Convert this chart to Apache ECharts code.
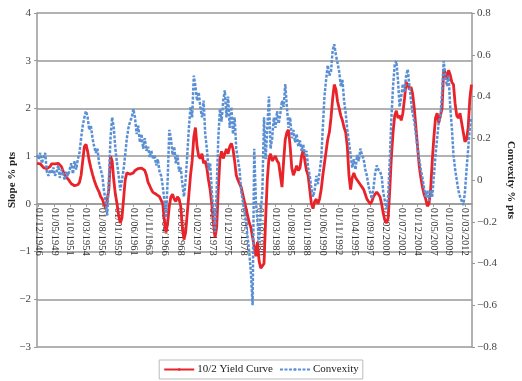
<!DOCTYPE html>
<html>
<head>
<meta charset="utf-8">
<script src="https://cdn.jsdelivr.net/npm/echarts@6/dist/echarts.min.js"></script>
<style>
html,body{margin:0;padding:0;background:#fff;}
#c{width:522px;height:381px;}
</style>
</head>
<body>
<div id="c"></div>
<script>
// Monthly category axis, first month and length
var startYear = 1946, startMonth = 9, monthCount = 800;
// Tick labels shown on the x axis
var tickLabels = ['01/12/1946','01/05/1949','01/10/1951','01/03/1954','01/08/1956','01/01/1959','01/06/1961','01/11/1963','01/04/1966','01/09/1968','01/02/1971','01/07/1973','01/12/1975','01/05/1978','01/10/1980','01/03/1983','01/08/1985','01/01/1988','01/06/1990','01/11/1992','01/04/1995','01/09/1997','01/02/2000','01/07/2002','01/12/2004','01/05/2007','01/10/2009','01/03/2012'];
// Series sampled every 3 months (quarterly) from the first month
var slope = [
0.85,0.88,0.84,0.8,0.76,0.72,0.74,0.72,0.78,0.84,
0.86,0.84,0.82,0.85,0.83,0.78,0.68,0.6,0.56,0.52,
0.48,0.42,0.45,0.38,0.35,0.4,0.45,0.6,0.9,1.2,
1.25,1.1,0.9,0.75,0.62,0.5,0.4,0.32,0.25,0.15,
0.1,0.0,-0.1,-0.12,0.3,1.0,0.9,0.5,0.2,0.0,
-0.25,-0.4,-0.3,0.1,0.5,0.65,0.68,0.62,0.6,0.65,
0.7,0.68,0.74,0.77,0.75,0.72,0.7,0.6,0.45,0.38,
0.3,0.24,0.22,0.2,0.18,0.15,0.12,0.0,-0.35,-0.6,
-0.4,-0.05,0.15,0.2,0.1,0.05,0.15,0.1,-0.05,-0.5,
-0.75,-0.6,-0.2,0.2,0.6,0.9,1.4,1.6,1.2,1.0,
0.95,1.05,0.85,0.9,0.75,0.5,0.3,0.0,-0.4,-0.7,
-0.5,0.3,0.95,1.1,0.95,1.05,1.15,1.05,1.2,1.27,
1.15,0.9,0.6,0.5,0.42,0.35,0.2,0.05,-0.1,-0.25,
-0.4,-0.5,-0.7,-0.9,-1.1,-0.8,-1.2,-1.35,-1.3,-1.25,
-0.3,0.5,0.95,1.05,0.9,0.95,1.0,0.9,0.85,0.6,
0.35,0.9,1.35,1.5,1.55,1.2,0.75,0.6,0.7,0.8,
0.7,0.75,1.0,1.13,0.9,0.7,0.6,0.3,0.0,-0.1,
0.05,0.1,0.0,0.1,0.3,0.6,0.85,1.1,1.35,1.5,
1.8,2.2,2.5,2.4,2.15,2.0,1.85,1.75,1.6,1.5,
1.2,0.6,0.3,0.55,0.65,0.55,0.5,0.5,0.4,0.35,
0.3,0.2,0.1,0.05,0.0,0.05,0.15,0.2,0.25,0.2,
0.15,0.0,-0.2,-0.35,-0.4,-0.3,0.3,1.0,1.5,1.85,
1.95,1.8,1.85,1.75,1.9,2.2,2.55,2.5,2.4,2.45,
2.3,2.0,1.6,1.2,0.8,0.55,0.35,0.2,0.1,-0.05,
0.0,0.3,0.9,1.4,1.8,1.9,1.7,1.85,2.0,2.8,
2.75,2.6,2.8,2.7,2.55,2.5,2.1,1.85,1.8,1.9,
1.7,1.5,1.3,1.35,1.6,2.2,2.5
];
var convexity = [
0.12,0.1,0.13,0.08,0.11,0.13,0.04,0.02,0.05,0.03,
0.06,0.02,0.04,0.07,0.01,0.05,0.03,0.0,0.04,0.02,
0.05,0.08,0.03,0.09,0.05,0.1,0.13,0.2,0.26,0.3,
0.33,0.3,0.24,0.26,0.2,0.16,0.13,0.15,0.08,0.05,
0.02,-0.05,-0.1,-0.17,0.0,0.2,0.3,0.25,0.15,0.08,
0.02,-0.05,0.0,0.05,0.12,0.2,0.25,0.28,0.3,0.34,
0.3,0.22,0.26,0.18,0.22,0.15,0.2,0.14,0.16,0.11,
0.14,0.1,0.12,0.07,0.1,0.04,0.02,-0.03,-0.1,-0.18,
0.0,0.24,0.2,0.12,0.16,0.08,0.12,0.04,0.06,-0.02,
-0.08,0.0,0.12,0.25,0.35,0.3,0.5,0.45,0.38,0.42,
0.35,0.3,0.38,0.22,0.15,0.05,0.08,-0.05,-0.15,-0.25,
-0.05,0.2,0.34,0.28,0.38,0.43,0.3,0.4,0.25,0.35,
0.22,0.3,0.15,0.1,0.05,-0.05,-0.1,-0.15,-0.2,-0.28,
-0.35,-0.45,-0.6,0.15,-0.1,-0.2,-0.3,-0.15,-0.05,0.3,
0.1,0.25,0.4,0.15,0.2,0.3,0.25,0.33,0.27,0.32,
0.38,0.35,0.46,0.35,0.25,0.3,0.2,0.24,0.18,0.22,
0.16,0.19,0.14,0.17,0.12,0.14,0.06,0.02,-0.04,-0.08,
-0.05,0.02,-0.02,0.04,0.1,0.25,0.4,0.48,0.55,0.5,
0.52,0.62,0.65,0.6,0.56,0.52,0.45,0.48,0.38,0.32,
0.24,0.18,0.12,0.06,0.1,0.05,0.12,0.09,0.15,0.12,
0.1,0.05,0.02,-0.03,-0.06,-0.09,-0.04,0.03,0.07,0.05,
0.04,0.02,-0.06,-0.1,-0.14,-0.08,0.1,0.3,0.45,0.55,
0.57,0.48,0.35,0.4,0.46,0.42,0.5,0.53,0.45,0.38,
0.32,0.28,0.22,0.15,0.1,0.05,0.01,-0.04,-0.08,-0.05,
-0.1,-0.05,-0.08,0.02,0.12,0.2,0.28,0.3,0.42,0.57,
0.5,0.45,0.5,0.35,0.25,0.12,0.05,0.0,-0.05,-0.08,
-0.1,-0.12,-0.06,0.05,0.15,0.25,0.3
];
var sampleStep = 3;

var categories = [];
for (var i = 0; i < monthCount; i++) {
  var mm = (startMonth - 1 + i) % 12 + 1;
  var yy = startYear + Math.floor((startMonth - 1 + i) / 12);
  categories.push('01/' + (mm < 10 ? '0' + mm : mm) + '/' + yy);
}
function toPairs(arr){ return arr.map(function(v, k){ return [k * sampleStep, v]; }); }
var labelSet = {};
tickLabels.forEach(function(t){ labelSet[t] = true; });
function showTick(idx, val){ return !!labelSet[val]; }
function minus(v){ return String(v).replace('-', '\u2212'); }

var redIcon = 'path://M0,0 L40,0 L40,3 L0,3 Z';
var blueIcon = 'path://M0,0h4v3h-4z M6,0h4v3h-4z M12,0h4v3h-4z M18,0h4v3h-4z M24,0h4v3h-4z M30,0h4v3h-4z M36,0h4v3h-4z';

var gridTop = 13, gridBottom = 34, chartH = 381;
var yMin = -3, yMax = 4;
// move the category axis up to the zero line of the left axis
var plotH = chartH - gridTop - gridBottom;
var zeroOffset = -plotH * (0 - yMin) / (yMax - yMin);

var chart = echarts.init(document.getElementById('c'));
var serif = '"Liberation Serif", "DejaVu Serif", serif';
chart.setOption({
  animation: false,
  backgroundColor: '#fff',
  grid: { left: 37, right: 50, top: gridTop, bottom: gridBottom, containLabel: false, outerBoundsMode: 'none' },
  legend: {
    bottom: 2, left: 'center',
    data: ['10/2 Yield Curve', 'Convexity'],
    itemWidth: 30, itemHeight: 3, itemGap: 6,
    borderColor: '#bbb', borderWidth: 1, borderRadius: 0,
    padding: [4, 4, 4, 4],
    textStyle: { fontFamily: serif, fontSize: 11, color: '#222', padding: [0, 0, 0, -2] }
  },
  xAxis: {
    type: 'category',
    data: categories,
    boundaryGap: false,
    position: 'bottom',
    offset: zeroOffset,
    axisLine: { show: true, onZero: false, lineStyle: { color: '#999', width: 1.5 } },
    axisTick: { show: true, interval: showTick, length: 3, lineStyle: { color: '#999' } },
    axisLabel: { interval: showTick, rotate: -90, fontFamily: serif, fontSize: 10.5, color: '#333', margin: 4 },
    splitLine: { show: false }
  },
  yAxis: [{
    type: 'value', min: yMin, max: yMax, interval: 1,
    name: 'Slope % pts', nameLocation: 'middle', nameGap: 19, nameRotate: 90, nameMoveOverlap: false,
    nameTextStyle: { fontFamily: serif, fontSize: 11, fontWeight: 'bold', color: '#222' },
    axisLine: { show: true, onZero: false, lineStyle: { color: '#999', width: 1.5 } },
    axisTick: { show: true, length: 3, lineStyle: { color: '#999' } },
    axisLabel: { fontFamily: serif, fontSize: 11, color: '#444', margin: 6, formatter: minus },
    splitLine: { show: true, lineStyle: { color: '#999', width: 1.5 } }
  }, {
    type: 'value', min: -0.8, max: 0.8, interval: 0.2, position: 'right',
    name: 'Convexity % pts', nameLocation: 'middle', nameGap: 33, nameRotate: -90, nameMoveOverlap: false,
    nameTextStyle: { fontFamily: serif, fontSize: 11, fontWeight: 'bold', color: '#222' },
    axisLine: { show: true, onZero: false, lineStyle: { color: '#999', width: 1.5 } },
    axisTick: { show: true, length: 3, lineStyle: { color: '#999' } },
    axisLabel: { fontFamily: serif, fontSize: 11, color: '#444', margin: 5,
      formatter: function(v){ return minus(Math.round(v * 10) / 10); } },
    splitLine: { show: false }
  }],
  series: [{
    name: '10/2 Yield Curve', type: 'line', yAxisIndex: 0,
    data: toPairs(slope), symbol: 'none', z: 2, legendIcon: redIcon,
    lineStyle: { color: '#e8232a', width: 2.8 },
    itemStyle: { color: '#e8232a' }
  }, {
    name: 'Convexity', type: 'line', yAxisIndex: 1,
    data: toPairs(convexity), symbol: 'none', z: 3, legendIcon: blueIcon,
    lineStyle: { color: '#5b8fd3', width: 2.5, type: [3, 1.5] },
    itemStyle: { color: '#5b8fd3' }
  }]
});
</script>
</body>
</html>
